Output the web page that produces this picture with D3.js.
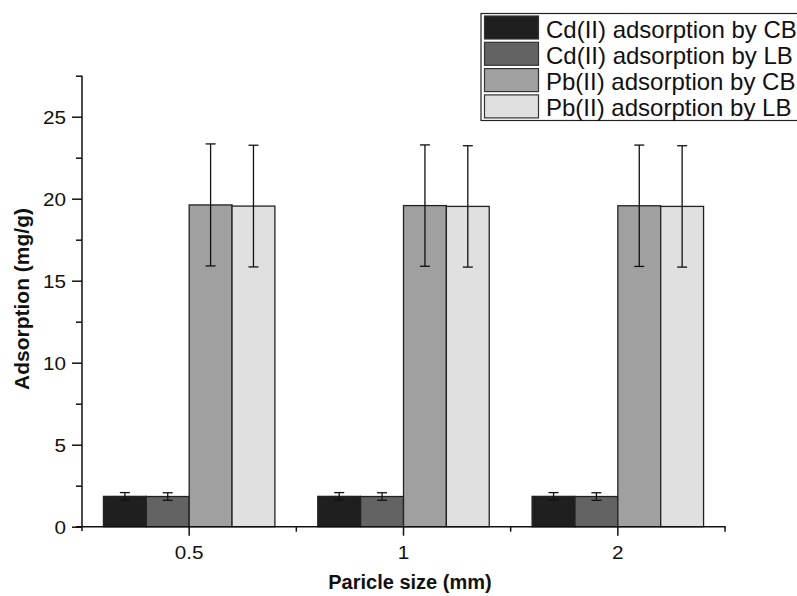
<!DOCTYPE html>
<html>
<head>
<meta charset="utf-8">
<script src="https://cdn.jsdelivr.net/npm/d3@7"></script>
<style>
  html, body { margin: 0; padding: 0; background: #fff; }
  svg { display: block; font-family: "Liberation Sans", Arial, sans-serif; }
</style>
</head>
<body>
<svg id="chart" width="797" height="596"></svg>
<script>
// Particle sizes (mm) on the x axis
const categories = ["0.5", "1", "2"];
// Series names, in drawing order within each group
const seriesNames = [
  "Cd(II) adsorption by CB",
  "Cd(II) adsorption by LB",
  "Pb(II) adsorption by CB",
  "Pb(II) adsorption by LB"
];
// Mean adsorption (mg/g) per particle size
const cdCB = [1.85, 1.85, 1.85];
const cdLB = [1.84, 1.84, 1.84];
const pbCB = [19.62, 19.58, 19.57];
const pbLB = [19.55, 19.53, 19.53];
// Standard deviations (error bars)
const cdCBErr = [0.23, 0.23, 0.23];
const cdLBErr = [0.23, 0.23, 0.23];
const pbCBErr = [3.72, 3.70, 3.70];
const pbLBErr = [3.71, 3.70, 3.70];
// Y axis ticks
const yMajorTicks = [0, 5, 10, 15, 20, 25];
const yMinorTicks = [2.5, 7.5, 12.5, 17.5, 22.5, 27.5];

const seriesValues = [cdCB, cdLB, pbCB, pbLB];
const seriesErrors = [cdCBErr, cdLBErr, pbCBErr, pbLBErr];
const fills = ["#1f1f1f", "#636363", "#a0a0a0", "#e0e0e0"];

const svg = d3.select("#chart");

const x0 = d3.scaleBand().domain(categories).range([82, 725]).padding(0);
const x1 = d3.scaleBand().domain(d3.range(seriesNames.length))
  .range([x0.bandwidth() * 0.1, x0.bandwidth() * 0.9]).padding(0);
const y = d3.scaleLinear().domain([0, 27.5]).range([526.7, 75.7]);

// rows of data built from the arrays
const rows = [];
categories.forEach((c, ci) => {
  seriesValues.forEach((vals, si) => {
    rows.push({ cat: c, s: si, v: vals[ci], e: seriesErrors[si][ci] });
  });
});

// Bars
svg.append("g").selectAll("rect")
  .data(rows)
  .join("rect")
  .attr("x", d => x0(d.cat) + x1(d.s))
  .attr("y", d => y(d.v))
  .attr("width", x1.bandwidth())
  .attr("height", d => y(0) - y(d.v))
  .attr("fill", d => fills[d.s])
  .attr("stroke", "#222")
  .attr("stroke-width", 1.3);

// Error bars
const eb = svg.append("g").attr("stroke", "#111").attr("stroke-width", 1.3);
rows.forEach(d => {
  const cx = x0(d.cat) + x1(d.s) + x1.bandwidth() / 2;
  const yt = y(d.v + d.e), yb = y(d.v - d.e);
  eb.append("line").attr("x1", cx).attr("x2", cx).attr("y1", yt).attr("y2", yb);
  eb.append("line").attr("x1", cx - 5).attr("x2", cx + 5).attr("y1", yt).attr("y2", yt);
  eb.append("line").attr("x1", cx - 5).attr("x2", cx + 5).attr("y1", yb).attr("y2", yb);
});

// Slightly widened tick labels
function widenLabels(sel, sx) {
  sel.selectAll(".tick text").each(function () {
    const t = d3.select(this);
    const tx = +t.attr("x") || 0;
    t.attr("x", 0).attr("transform", `translate(${tx},0) scale(${sx},1)`);
  });
}

// Y axis (major + minor ticks)
const yAxisG = svg.append("g").attr("transform", "translate(82,0)")
  .call(d3.axisLeft(y).tickValues(yMajorTicks).tickSize(10).tickPadding(6).tickSizeOuter(0));
yAxisG.selectAll(".tick text").attr("font-size", 18).attr("fill", "#111").attr("dy", "0.36em");
widenLabels(yAxisG, 1.15);
yAxisG.select(".domain").remove();
svg.append("g").attr("transform", "translate(82,0)")
  .call(d3.axisLeft(y).tickValues(yMinorTicks).tickSize(6).tickFormat("").tickSizeOuter(0))
  .select(".domain").remove();
svg.append("line").attr("x1", 82).attr("x2", 82).attr("y1", y(27.5)).attr("y2", 531)
  .attr("stroke", "#111").attr("stroke-width", 1.5);
svg.selectAll(".tick line").attr("stroke", "#111").attr("stroke-width", 1.5);

// X axis: major ticks at group centres, minor ticks at group edges
const xAxisG = svg.append("g").attr("transform", `translate(0,${y(0)})`)
  .call(d3.axisBottom(x0).tickSize(9).tickPadding(6).tickSizeOuter(0));
xAxisG.selectAll(".tick text").attr("font-size", 18).attr("fill", "#111").attr("dy", "0.95em");
widenLabels(xAxisG, 1.15);
xAxisG.select(".domain").remove();
const edges = categories.slice(1).map(c => x0(c)).concat([x0.range()[1]]);
svg.append("g").selectAll("line").data(edges).join("line")
  .attr("x1", d => d).attr("x2", d => d)
  .attr("y1", y(0)).attr("y2", y(0) + 5)
  .attr("stroke", "#111").attr("stroke-width", 1.5);
svg.append("line").attr("x1", 76).attr("x2", x0.range()[1] + 0.7)
  .attr("y1", y(0)).attr("y2", y(0))
  .attr("stroke", "#111").attr("stroke-width", 1.5);
xAxisG.selectAll(".tick line").attr("stroke", "#111").attr("stroke-width", 1.5);

// Axis titles
svg.append("text")
  .attr("transform", "translate(29,299) rotate(-90)")
  .attr("text-anchor", "middle")
  .attr("font-size", 21).attr("font-weight", "bold").attr("fill", "#111")
  .text("Adsorption (mg/g)");
svg.append("text")
  .attr("x", 410).attr("y", 589)
  .attr("text-anchor", "middle")
  .attr("font-size", 20).attr("font-weight", "bold").attr("fill", "#111")
  .text("Paricle size (mm)");

// Legend
const legend = svg.append("g");
legend.append("rect")
  .attr("x", 481).attr("y", 13.5).attr("width", 330).attr("height", 107)
  .attr("fill", "#fff").attr("stroke", "#222").attr("stroke-width", 1.2);
seriesNames.forEach((name, i) => {
  const yy = 16 + i * 26.3;
  legend.append("rect")
    .attr("x", 484.5).attr("y", yy).attr("width", 54).attr("height", 23)
    .attr("fill", fills[i]).attr("stroke", "#333").attr("stroke-width", 1.2);
  legend.append("text")
    .attr("x", 546).attr("y", yy + 21.5)
    .attr("font-size", 24).attr("fill", "#111")
    .text(name);
});
</script>
</body>
</html>
